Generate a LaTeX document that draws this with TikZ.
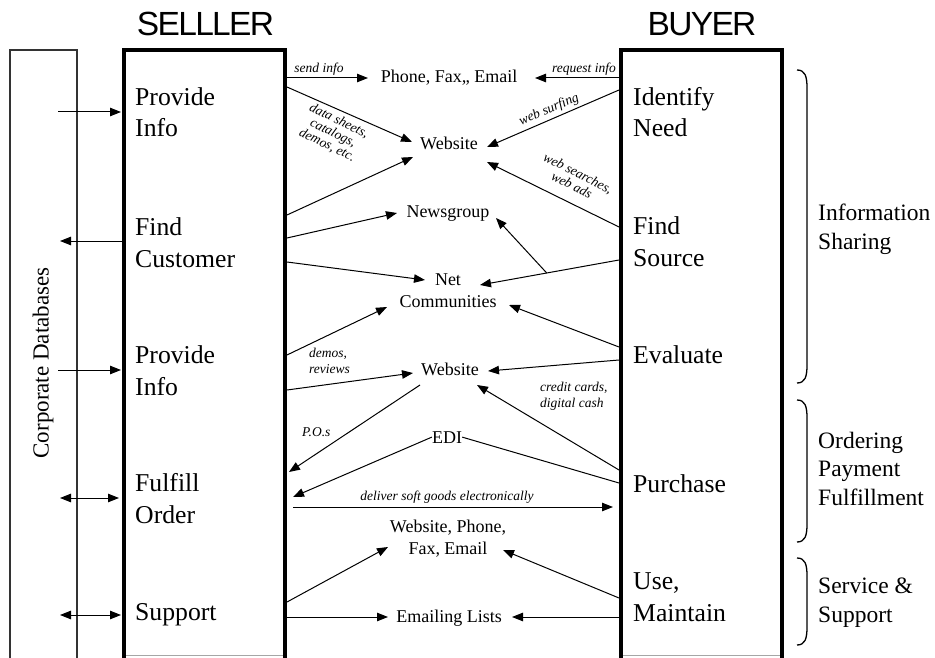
\documentclass[tikz,border=0pt]{standalone}
\usepackage{fontspec}
\setmainfont{Liberation Serif}
\newfontfamily\titlefont[LetterSpace=-5]{Liberation Sans}
\usetikzlibrary{arrows.meta,calc}

\tikzset{
  conn/.style={line width=1pt,-{Triangle[length=11pt,width=8.5pt]}},
  both/.style={line width=1pt,{Triangle[length=11pt,width=8.5pt]}-{Triangle[length=11pt,width=8.5pt]}},
  plain/.style={line width=1pt},
  boxline/.style={line width=4pt},
  dbline/.style={line width=1.3pt,draw=black!80},
  title/.style={font=\fontsize{33.5}{40}\titlefont,inner sep=0,anchor=base},
  steplbl/.style={font=\fontsize{25.7}{31.5}\selectfont,align=left,inner sep=0,anchor=base west},
  phase/.style={font=\fontsize{23.5}{28.5}\selectfont,align=left,inner sep=0,anchor=base west},
  mid/.style={font=\fontsize{18}{22}\selectfont,align=center,inner sep=0,anchor=base},
  note/.style={font=\fontsize{13.5}{15.5}\selectfont\itshape,align=center,inner sep=0},
  leftnote/.style={note,align=left,anchor=base west},
  tiltnote/.style={font=\fontsize{13.5}{13.5}\selectfont\itshape,align=center,inner sep=0},
  brace/.style={line width=1.3pt}
}

\begin{document}
\begin{tikzpicture}[x=1pt,y=-1pt]
\useasboundingbox (0,0) rectangle (935,658);
\fill[white] (0,0) rectangle (935,658);

% titles
\node[title] (seller) at (205.5,36) {SELLLER};
\node[title] (buyer) at (702,36) {BUYER};

% corporate databases column
\draw[dbline] (10,660) -- (10,50) -- (77,50) -- (77,660);
\node[font=\fontsize{23}{28}\selectfont,rotate=90,inner sep=0] (db) at (43,363) {Corporate Databases};

% seller and buyer columns
\draw[boxline] (124,662) -- (124,50) -- (285,50) -- (285,662);
\draw[boxline] (621,662) -- (621,50) -- (782,50) -- (782,662);
\draw[line width=0.6pt,black!35] (126,655) -- (283,655) (623,655) -- (780,655);

% seller steps (anchored on the baseline of the last line)
\node[steplbl] (s1) at (135,137) {Provide\\Info};
\node[steplbl] (s2) at (135,267) {Find\\Customer};
\node[steplbl] (s3) at (135,395) {Provide\\Info};
\node[steplbl] (s4) at (135,523) {Fulfill\\Order};
\node[steplbl] (s5) at (135,620) {Support};

% buyer steps
\node[steplbl] (b1) at (633,137) {Identify\\Need};
\node[steplbl] (b2) at (633,266) {Find\\Source};
\node[steplbl] (b3) at (633,363) {Evaluate};
\node[steplbl] (b4) at (633,492) {Purchase};
\node[steplbl] (b5) at (633,621) {Use,\\Maintain};

% phases
\draw[brace] (797,70) .. controls (805,70) and (807,76) .. (807,88) -- (807,365) .. controls (807,377) and (805,383) .. (797,383);
\draw[brace] (797,400) .. controls (805,400) and (807,406) .. (807,418) -- (807,524) .. controls (807,536) and (805,542) .. (797,542);
\draw[brace] (797,558) .. controls (805,558) and (807,564) .. (807,576) -- (807,627) .. controls (807,639) and (805,645) .. (797,645);
\node[phase] (ph1) at (818,249) {Information\\Sharing};
\node[phase] (ph2) at (818,505) {Ordering\\Payment\\Fulfillment};
\node[phase] (ph3) at (818,622) {Service \&\\Support};

% channels
\node[mid] (phone) at (449,83) {Phone, Fax,, Email};
\node[mid] (web1) at (449,150) {Website};
\node[mid] (news) at (448,218) {Newsgroup};
\node[mid] (net) at (448,307) {Net\\Communities};
\node[mid] (web2) at (450,375) {Website};
\node[mid] (edi) at (447,443) {EDI};
\node[mid] (wpfe) at (448,554) {Website, Phone,\\Fax, Email};
\node[mid] (mail) at (449,622) {Emailing Lists};

% connector ends
\coordinate (sA1) at (287,78);  \coordinate (phL) at (368,78);
\coordinate (bA1) at (619,78);  \coordinate (phR) at (535,78);
\coordinate (sA2) at (287,87);  \coordinate (w1a) at (412,142);
\coordinate (bA2) at (619,90);  \coordinate (w1b) at (487,147);
\coordinate (bB1) at (619,227); \coordinate (w1c) at (487,162);
\coordinate (sB1) at (287,215); \coordinate (w1d) at (413,157);
\coordinate (sB2) at (287,238); \coordinate (ngL) at (397,213);
\coordinate (sB3) at (287,262); \coordinate (ncL) at (425,280);
\coordinate (bB2) at (619,260); \coordinate (ncR) at (480,285);
\coordinate (fork) at ($(bB2)!0.52!(ncR)$); \coordinate (ngR) at (496,218);
\coordinate (bC1) at (619,347); \coordinate (ncR2) at (509,305);
\coordinate (bC2) at (619,360); \coordinate (w2R) at (488,371);
\coordinate (sC1) at (287,355); \coordinate (ncL2) at (387,307);
\coordinate (sC2) at (287,390); \coordinate (w2L) at (413,373);
\coordinate (w2a) at (420,385); \coordinate (sD1) at (289,472);
\coordinate (bD1) at (619,470); \coordinate (w2b) at (477,385);
\coordinate (bD2) at (619,483); \coordinate (sD2) at (293,497);
\coordinate (sD3) at (293,507); \coordinate (bD3) at (613,507);
\coordinate (sE1) at (287,602); \coordinate (wpL) at (388,547);
\coordinate (bE1) at (619,598); \coordinate (wpR) at (503,550);
\coordinate (sE2) at (287,617); \coordinate (elL) at (388,617);
\coordinate (bE2) at (619,617); \coordinate (elR) at (512,617);

% database links
\coordinate (db1) at (58,112);  \coordinate (sL1) at (121,112);
\coordinate (db2) at (60,241);  \coordinate (sL2) at (122,241);
\coordinate (db3) at (58,370);  \coordinate (sL3) at (121,370);
\coordinate (db4) at (60,498);  \coordinate (sL4) at (119,498);
\coordinate (db5) at (60,615);  \coordinate (sL5) at (121,615);
\draw[conn] (db1) -- (sL1);
\draw[conn] (sL2) -- (db2);
\draw[conn] (db3) -- (sL3);
\draw[both] (db4) -- (sL4);
\draw[both] (db5) -- (sL5);

% information sharing flows
\draw[conn] (sA1) -- (phL);
\draw[conn] (bA1) -- (phR);
\draw[conn] (sA2) -- (w1a);
\draw[conn] (bA2) -- (w1b);
\draw[conn] (bB1) -- (w1c);
\draw[conn] (sB1) -- (w1d);
\draw[conn] (sB2) -- (ngL);
\draw[conn] (sB3) -- (ncL);
\draw[conn] (bB2) -- (ncR);
\draw[conn] (fork) -- (ngR);
\draw[conn] (bC1) -- (ncR2);
\draw[conn] (bC2) -- (w2R);
\draw[conn] (sC1) -- (ncL2);
\draw[conn] (sC2) -- (w2L);

% ordering and fulfillment flows
\draw[conn] (w2a) -- (sD1);
\draw[conn] (bD1) -- (w2b);
\draw[plain] (bD2) -- (edi.east);
\draw[conn] (edi.west) -- (sD2);
\draw[conn] (sD3) -- (bD3);

% service flows
\draw[conn] (sE1) -- (wpL);
\draw[conn] (bE1) -- (wpR);
\draw[conn] (sE2) -- (elL);
\draw[conn] (bE2) -- (elR);

% flow labels
\node[note] (n1) at (319,69) {send info};
\node[note] (n2) at (584,69) {request info};
\node[tiltnote,rotate=-26] (n3) at (333,133) {data sheets,\\catalogs,\\demos, etc.};
\node[note,rotate=23] (n4) at (549,110) {web surfing};
\node[tiltnote,rotate=-27] (n5) at (575,179) {web searches,\\web ads};
\node[leftnote] (n6) at (309,373) {demos,\\reviews};
\node[leftnote] (n7) at (302,436) {P.O.s};
\node[leftnote] (n8) at (540,407) {credit cards,\\digital cash};
\node[note] (n9) at (447,497) {deliver soft goods electronically};
\end{tikzpicture}
\end{document}
